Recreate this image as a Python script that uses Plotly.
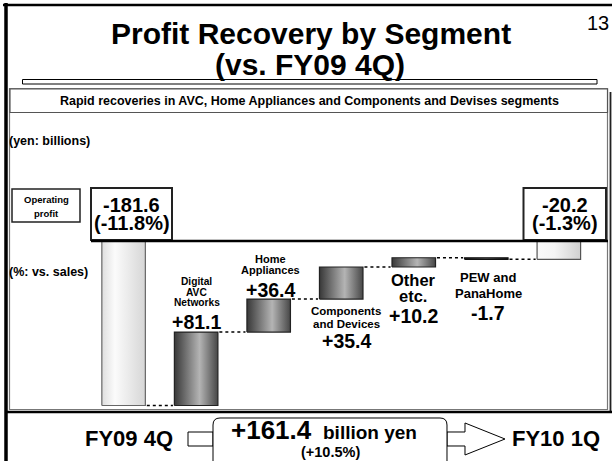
import plotly.graph_objects as go

# ---------------- data ----------------
categories = ["FY09 4Q", "Digital AVC Networks", "Home Appliances",
              "Components and Devices", "Other etc.", "PEW and PanaHome", "FY10 1Q"]
start_value = -181.6
start_pct = -11.8
changes = [81.1, 36.4, 35.4, 10.2, -1.7]
end_value = -20.2
end_pct = -1.3
total_change = 161.4
total_change_pct = 10.5
segment_label_lines = [["Digital", "AVC", "Networks"], ["Home", "Appliances"],
                       ["Components", "and Devices"], ["Other", "etc."], ["PEW and", "PanaHome"]]

# ---------------- helpers ----------------
W, H = 612, 461
FONT = "Liberation Sans, Arial, sans-serif"


def X(px):
    return px / W


def Y(py):
    return 1 - py / H


fig = go.Figure()

# bar extents from data
lows, highs, levels = [], [], []
lows.append(start_value); highs.append(0); levels.append(start_value)
running = start_value
for c in changes:
    lo, hi = min(running, running + c), max(running, running + c)
    lows.append(lo); highs.append(hi)
    running += c
    levels.append(running)
lows.append(end_value); highs.append(0)

half = 0.3
light = [[0, "#dedede"], [0.3, "#fbfbfb"], [1, "#d6d6d6"]]
mid = [[0, "#383838"], [0.58, "#b4b4b4"], [1, "#474747"]]
dark = [[0, "#151515"], [0.5, "#5a5a5a"], [1, "#151515"]]
grads = [light, mid, mid, mid, mid, dark, [[0, "#fafafa"], [0.4, "#f4f4f4"], [1, "#d0d0d0"]]]
outline = ["#666666", "#222222", "#222222", "#222222", "#222222", "#111111", "#555555"]

for i, cat in enumerate(categories):
    lo, hi = lows[i], highs[i]
    fig.add_trace(go.Scatter(
        x=[i - half, i + half, i + half, i - half, i - half],
        y=[lo, lo, hi, hi, lo],
        mode="lines", fill="toself",
        fillgradient=dict(type="horizontal", colorscale=grads[i]),
        line=dict(color=outline[i], width=1.2),
        name=cat, showlegend=False, hoverinfo="skip"))

# dotted connectors
for i, lev in enumerate(levels):
    fig.add_trace(go.Scatter(
        x=[i + half + 0.02, i + 1 - half - 0.02], y=[lev, lev], mode="lines",
        line=dict(color="black", width=1.5, dash="dot"),
        showlegend=False, hoverinfo="skip"))

# ---------------- frame shapes ----------------
shapes = []


def rect(x0, y0, x1, y1, color="black", width=1, fill="rgba(0,0,0,0)", layer="above"):
    shapes.append(dict(type="rect", xref="paper", yref="paper", x0=X(x0), x1=X(x1),
                       y0=Y(y0), y1=Y(y1), line=dict(color=color, width=width),
                       fillcolor=fill, layer=layer))


def line(x0, y0, x1, y1, color="black", width=1, dash="solid"):
    shapes.append(dict(type="line", xref="paper", yref="paper", x0=X(x0), x1=X(x1),
                       y0=Y(y0), y1=Y(y1), line=dict(color=color, width=width, dash=dash)))


# outer border
line(3, 5, 612, 5, width=2.5)
line(6, 3, 6, 461, width=3.5)
# thin title bar
rect(22.5, 79.5, 597, 84, width=1, fill="white")
# main panel
rect(9.5, 88.5, 607.5, 409.5, color="#777777", width=1.2, layer="below")
line(610.5, 92, 610.5, 413, color="#222222", width=1.8)
line(6, 412, 612, 412, width=2.5)
# headline box
rect(10, 89, 607.5, 112.5, color="#555555", width=1.2, fill="white")
# operating profit box
rect(12, 189, 80, 222, color="#222222", width=1.5, fill="white")
# start / end value boxes
rect(91, 188, 172, 240, color="#222222", width=2, fill="white")
rect(523.5, 188, 606, 240, color="#222222", width=2, fill="white")
# zero line (axis zero)
shapes.append(dict(type="line", xref="paper", yref="y", x0=X(91), x1=X(608), y0=0, y1=0,
                   line=dict(color="black", width=2.5)))

# bottom arrow + rounded box
rect(188, 432, 213, 446, width=1, fill="white")
p = lambda x, y: f"{X(x):.5f},{Y(y):.5f}"
shapes.append(dict(type="path", xref="paper", yref="paper",
                   path=(f"M{p(447,432)} L{p(465,432)} L{p(465,423)} L{p(505,439)} "
                         f"L{p(465,455)} L{p(465,446)} L{p(447,446)} Z"),
                   line=dict(color="black", width=1), fillcolor="white"))
shapes.append(dict(type="path", xref="paper", yref="paper",
                   path=(f"M{p(213,470)} L{p(213,425)} Q{p(213,418)} {p(220,418)} "
                         f"L{p(440,418)} Q{p(447,418)} {p(447,425)} L{p(447,470)} Z"),
                   line=dict(color="black", width=1), fillcolor="white"))

# ---------------- texts ----------------
ann = []


def txt(s, x, y, size, bold=True, xanchor="center"):
    ann.append(dict(text=f"<b>{s}</b>" if bold else s, x=X(x), y=Y(y), xref="paper",
                    yref="paper", showarrow=False, xanchor=xanchor, yanchor="middle",
                    font=dict(family=FONT, size=size, color="black")))


txt("Profit Recovery by Segment", 311, 33, 30)
txt("(vs. FY09 4Q)", 310, 65, 30)
txt("13", 598, 23, 20, bold=False)
txt("Rapid recoveries in AVC, Home Appliances and Components and Devises segments", 309, 101, 12.5)
txt("(yen: billions)", 7, 141, 12.5, xanchor="left")
txt("(%: vs. sales)", 7, 272, 12.5, xanchor="left")
txt("Operating", 46, 199, 9.5)
txt("profit", 46, 213, 9.5)

txt(f"{start_value:.1f}", 131.5, 205, 20)
txt(f"({start_pct:.1f}%)", 131.5, 223, 20)
txt(f"{end_value:.1f}", 565, 205, 20)
txt(f"({end_pct:.1f}%)", 565, 223, 20)

# segment labels: (center x, line y centers, line size, value y, value size)
seg_pos = [
    (196.5, [281.5, 292, 302], 10.2, 321.5, 19.5),
    (270.5, [259, 269.5], 11, 290, 19.5),
    (346, [311, 324], 11.5, 340.5, 19.5),
    (413, [279.5, 296], 16.5, 316, 19.5),
    (488, [277.5, 293.5], 13, 313, 19.5),
]
for k, (cx, ys, ls, vy, vs) in enumerate(seg_pos):
    for t, yy in zip(segment_label_lines[k], ys):
        txt(t, cx, yy, ls)
    txt(f"{changes[k]:+.1f}", cx, vy, vs)

txt(categories[0], 129, 438, 22)
txt(categories[-1], 556, 438, 22)
txt(f"{total_change:+.1f}", 314, 430, 26, xanchor="right")
txt("billion yen", 321, 432.5, 19, xanchor="left")
txt(f"({total_change_pct:+.1f}%)", 330, 452, 14.5)

fig.update_layout(
    width=W, height=H, autosize=False,
    margin=dict(l=0, r=0, t=0, b=0),
    paper_bgcolor="white", plot_bgcolor="white",
    xaxis=dict(range=[-123.6 / 72.54, (W - 123.6) / 72.54], visible=False, fixedrange=True),
    yaxis=dict(range=[-(H - 241) / 0.90584, 241 / 0.90584], visible=False, fixedrange=True),
    shapes=shapes, annotations=ann, showlegend=False,
)

fig.write_html("out.html", config={"displayModeBar": False},
               post_script="document.body.style.margin='0px';document.body.style.overflow='hidden';")
